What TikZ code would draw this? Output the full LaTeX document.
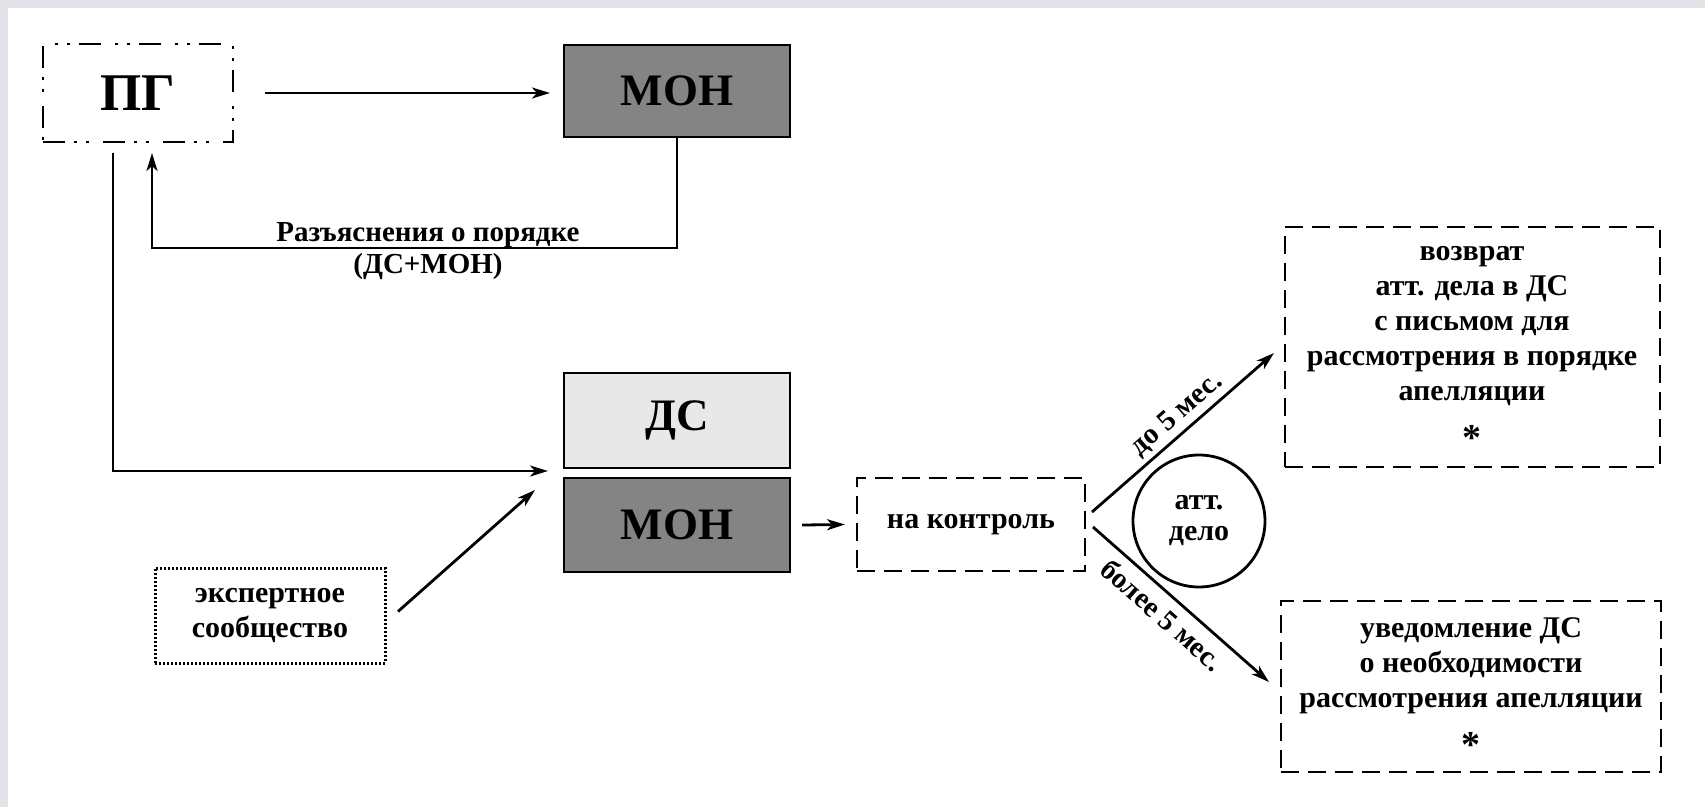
\documentclass[tikz,border=0pt]{standalone}
\usepackage{fontspec}
\setmainfont{Liberation Serif}
\usetikzlibrary{arrows.meta}
\definecolor{framec}{RGB}{230,226,234}
\definecolor{darkfill}{RGB}{132,132,132}
\definecolor{lightfill}{RGB}{232,232,232}
\begin{document}
\begin{tikzpicture}[x=1pt,y=-1pt,
  box/.style={draw=black,line width=2.8pt,inner sep=0pt,outer sep=0pt},
  bigtxt/.style={font=\fontsize{45}{50}\selectfont\bfseries},
  txt/.style={font=\fontsize{30}{35}\selectfont\bfseries,align=center,inner sep=0pt},
  lbl/.style={font=\fontsize{29}{33}\selectfont\bfseries,inner sep=0pt},
  startxt/.style={font=\fontsize{38}{40}\selectfont\bfseries,inner sep=0pt},
  arr/.style={line width=2.8pt,-{Stealth[length=18pt,width=11pt,inset=5pt]}},
  pgbox/.style={box,dash pattern=on 22pt off 9pt on 3pt off 9pt on 3pt off 14pt},
  dashbox/.style={box,dash pattern=on 18pt off 9pt},
  dotbox/.style={box,line width=3pt,dash pattern=on 2pt off 2pt},
]
\fill[framec] (0,0) rectangle (1705,807);
\fill[white] (8,8) rectangle (1705,807);
\useasboundingbox (0,0) rectangle (1705,807);

% nodes
\node[pgbox,minimum width=190pt,minimum height=98pt,font=\fontsize{53}{60}\selectfont\bfseries] (pg) at (138,93) {ПГ};
\node[box,fill=darkfill,minimum width=226pt,minimum height=92pt,bigtxt] (mon1) at (677,91) {МОН};
\node[box,fill=lightfill,minimum width=226pt,minimum height=95pt,bigtxt] (ds) at (677,420.5) {ДС};
\node[box,fill=darkfill,minimum width=226pt,minimum height=94pt,bigtxt] (mon2) at (677,525) {МОН};
\node[dotbox,minimum width=230pt,minimum height=95pt,txt] (exp) at (270,615.5) {экспертное\\сообщество};
\node[dashbox,minimum width=228pt,minimum height=93pt,txt] (ctrl) at (971,524.5) {на контроль};
\node[circle,draw=black,line width=2.8pt,minimum size=132pt,inner sep=0pt,outer sep=0pt] (att) at (1199,521) {};
\node[font=\fontsize{30}{31}\selectfont\bfseries,align=center,inner sep=0pt] (attt) at (att.center) {атт.\\дело};
\node[dashbox,minimum width=375pt,minimum height=240pt] (ret) at (1472.5,347) {};
\node[txt] (rett) at (1472,326) {возврат\\атт. дела в ДС\\с письмом для\\рассмотрения в порядке\\апелляции};
\node[startxt] (retstar) at (1472,438) {*};
\node[dashbox,minimum width=380pt,minimum height=171pt] (notif) at (1471,686.5) {};
\node[txt] (notift) at (1471,666) {уведомление ДС\\о необходимости\\рассмотрения апелляции};
\node[startxt] (notifstar) at (1471,745) {*};

% connectors
\draw[arr] ([xshift=32pt]pg.east) -- ([xshift=-14pt]pg.east -| mon1.west);

\coordinate (fbc) at (152,248);
\draw[arr] (mon1.south) |- (fbc) -- ([yshift=-11pt]pg.south -| fbc);
\node[lbl,anchor=base] (fbl1) at (428,241) {Разъяснения о порядке};
\node[lbl,anchor=base] (fbl2) at (428,273) {(ДС+МОН)};

\coordinate (lc) at (113,471);
\draw[arr] ([yshift=-11pt]pg.south -| lc) -- (lc) -- ([xshift=-16pt]lc -| ds.west);

\draw[arr] ([xshift=13pt,yshift=4pt]exp.east) -- ([xshift=-29pt,yshift=-12pt]mon2.north west);

\draw[arr] ([xshift=12pt]mon2.east) -- ([xshift=-12pt]ctrl.west);

\draw[arr] ([xshift=7pt,yshift=12.5pt]ctrl.east) -- node[lbl,sloped,above=4pt,pos=0.53] (l1) {до 5 мес.} ([xshift=-11pt,yshift=-6pt]ret.west);
\draw[arr] ([xshift=8pt,yshift=-2.5pt]ctrl.east) -- node[lbl,sloped,below=8pt,pos=0.47] (l2) {более 5 мес.} ([xshift=-12pt,yshift=4.5pt]notif.west);
\end{tikzpicture}
\end{document}
